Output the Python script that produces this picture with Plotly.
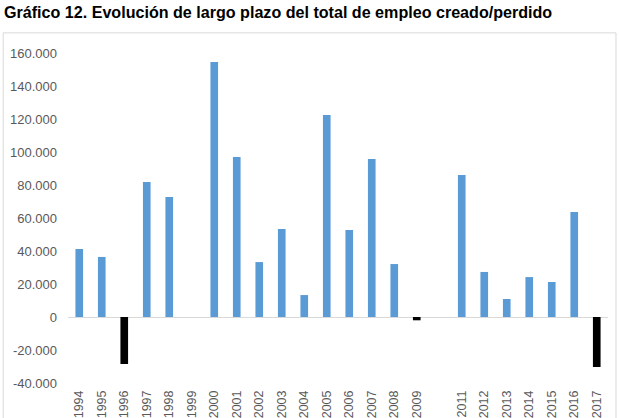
import plotly.graph_objects as go

years = [str(y) for y in range(1994, 2018)]
tick_labels = [y if y != "2010" else "" for y in years]
values = [41200, 36400, -28500, 81800, 72700, 0, 154500, 97000, 33300, 53300,
          13300, 122400, 52700, 95800, 32100, -2000, 0, 86000, 27300, 10900,
          24200, 21200, 63600, -30300]

title_text = "Gráfico 12. Evolución de largo plazo del total de empleo creado/perdido"
y_ticks = [-40000, -20000, 0, 20000, 40000, 60000, 80000, 100000, 120000, 140000, 160000]
y_tick_text = ["-40.000", "-20.000", "0", "20.000", "40.000", "60.000", "80.000",
               "100.000", "120.000", "140.000", "160.000"]

xs = list(range(len(years)))
colors = ["#000000" if v < 0 else "#5B9BD5" for v in values]

fig = go.Figure()
fig.add_trace(go.Bar(x=xs, y=values, marker=dict(color=colors, line=dict(width=0)),
                     width=0.34, hoverinfo="x+y"))

fig.update_layout(
    width=619, height=418,
    margin=dict(l=68, r=11, t=53, b=35),
    paper_bgcolor="white", plot_bgcolor="white",
    showlegend=False,
    font=dict(family="Liberation Sans, Arial", size=12, color="#595959"),
    xaxis=dict(range=[-0.5, len(years) - 0.5], tickmode="array", tickvals=xs,
               ticktext=tick_labels, tickangle=-90, showgrid=False, showline=False,
               ticks="", zeroline=False, automargin=False, ticklabelstandoff=4,
               tickfont=dict(size=12.5, color="#595959")),
    yaxis=dict(range=[-40000, 160000], tickmode="array", tickvals=y_ticks,
               ticktext=y_tick_text, showgrid=False, zeroline=True,
               zerolinecolor="#D9D9D9", zerolinewidth=1, ticks="", automargin=False,
               ticklabelstandoff=10,
               tickfont=dict(size=13, color="#595959")),
    annotations=[dict(text="<b>" + title_text + "</b>", x=-0.122, y=1.158,
                      xref="paper", yref="paper", xanchor="left", yanchor="top",
                      showarrow=False,
                      font=dict(family="Liberation Sans, Arial", size=16.1, color="#000000"))],
    shapes=[dict(type="rect", xref="paper", yref="paper", x0=-0.12, x1=1.0148,
                 y0=-0.2, y1=1.061, line=dict(color="#D9D9D9", width=1))],
)
fig.write_html("out.html")
